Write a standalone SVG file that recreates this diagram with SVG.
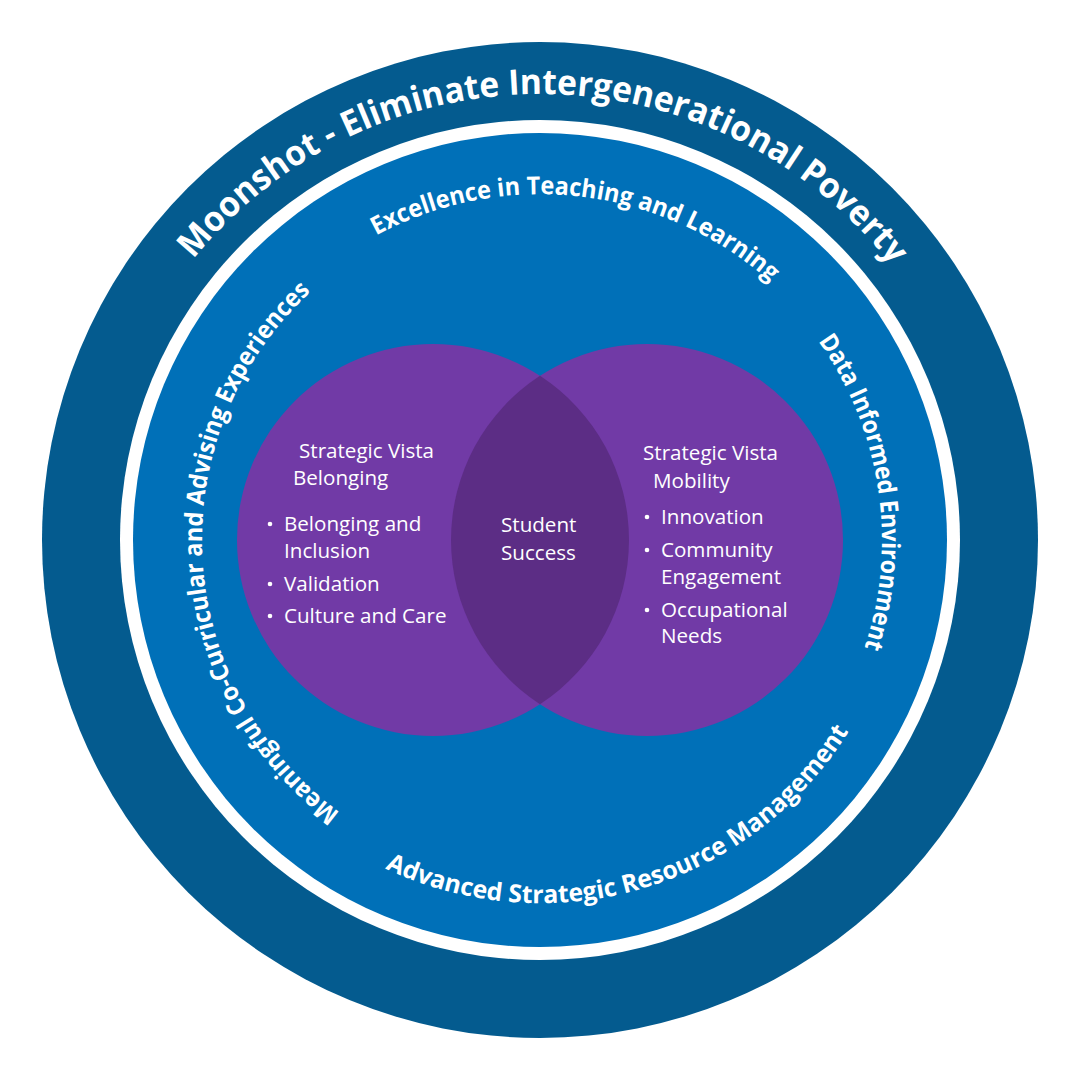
<svg xmlns="http://www.w3.org/2000/svg" xmlns:xlink="http://www.w3.org/1999/xlink" width="1080" height="1080" viewBox="0 0 1080 1080">
  <style>
    .curved { font-family: "Open Sans", "Noto Sans", "Liberation Sans", sans-serif; font-weight: 700; fill: #ffffff; }
    .big { font-size: 35px; }
    .mid { font-size: 25px; }
    .body { font-family: "Open Sans", "Noto Sans", "Liberation Sans", sans-serif; font-size: 20.6px; fill: #ffffff; }
    .dot { fill: #ffffff; }
  </style>
  <defs>
    <path id="pMoon" d="M101.5,458.7 A446,446 0 0 1 979.9,466.4"/>
    <path id="pExc" d="M208.7,440.3 A346,346 0 0 1 885.4,520.4"/>
    <path id="pMean" d="M500.0,875.6 A338,338 0 0 1 462.8,210.9"/>
    <path id="pData" d="M548.4,198.1 A342,342 0 0 1 649.1,864.1"/>
    <path id="pAdv" d="M215.1,702.0 A363,363 0 0 0 900.7,498.9"/>
  </defs>
  <rect width="1080" height="1080" fill="#ffffff"/>

  <g id="moonshot">
    <circle cx="540" cy="540" r="498" fill="#045b8f"/>
    <circle cx="540" cy="540" r="420" fill="#ffffff"/>
    <text class="curved big"><textPath xlink:href="#pMoon" href="#pMoon" startOffset="50%" text-anchor="middle" textLength="802" lengthAdjust="spacingAndGlyphs">Moonshot - Eliminate Intergenerational Poverty</textPath></text>
  </g>

  <g id="pillars">
    <circle cx="540" cy="540" r="407" fill="#0070b8"/>
    <text class="curved mid"><textPath xlink:href="#pExc" href="#pExc" startOffset="50%" text-anchor="middle" textLength="423" lengthAdjust="spacingAndGlyphs">Excellence in Teaching and Learning</textPath></text>
    <text class="curved mid"><textPath xlink:href="#pMean" href="#pMean" startOffset="50%" text-anchor="middle" textLength="596" lengthAdjust="spacingAndGlyphs">Meaningful Co-Curricular and Advising Experiences</textPath></text>
    <text class="curved mid"><textPath xlink:href="#pData" href="#pData" startOffset="50%" text-anchor="middle" textLength="322" lengthAdjust="spacingAndGlyphs">Data Informed Environment</textPath></text>
    <text class="curved mid"><textPath xlink:href="#pAdv" href="#pAdv" startOffset="50%" text-anchor="middle" textLength="529" lengthAdjust="spacingAndGlyphs">Advanced Strategic Resource Management</textPath></text>
  </g>

  <g id="belonging">
    <circle cx="433" cy="540" r="196" fill="#713aa6"/>
  </g>
  <g id="mobility">
    <circle cx="647" cy="540" r="196" fill="#713aa6"/>
  </g>
  <g id="student-success">
    <path d="M540,375.8 A196,196 0 0 1 540,704.2 A196,196 0 0 1 540,375.8 Z" fill="#5c2d85"/>
    <text class="body" x="501" y="532">Student</text>
    <text class="body" x="501" y="560">Success</text>
  </g>

  <g id="belonging-text">
    <text class="body" x="299" y="458">Strategic Vista</text>
    <text class="body" x="293" y="485">Belonging</text>
    <circle class="dot" cx="270" cy="524" r="2.3"/>
    <text class="body" x="284" y="531">Belonging and</text>
    <text class="body" x="284" y="558">Inclusion</text>
    <circle class="dot" cx="270" cy="584" r="2.3"/>
    <text class="body" x="284" y="591">Validation</text>
    <circle class="dot" cx="270" cy="616" r="2.3"/>
    <text class="body" x="284" y="623">Culture and Care</text>
  </g>

  <g id="mobility-text">
    <text class="body" x="643" y="460">Strategic Vista</text>
    <text class="body" x="653" y="488">Mobility</text>
    <circle class="dot" cx="647" cy="517" r="2.3"/>
    <text class="body" x="661" y="524">Innovation</text>
    <circle class="dot" cx="647" cy="550" r="2.3"/>
    <text class="body" x="661" y="557">Community</text>
    <text class="body" x="661" y="584">Engagement</text>
    <circle class="dot" cx="647" cy="610" r="2.3"/>
    <text class="body" x="661" y="617">Occupational</text>
    <text class="body" x="661" y="643">Needs</text>
  </g>
</svg>
